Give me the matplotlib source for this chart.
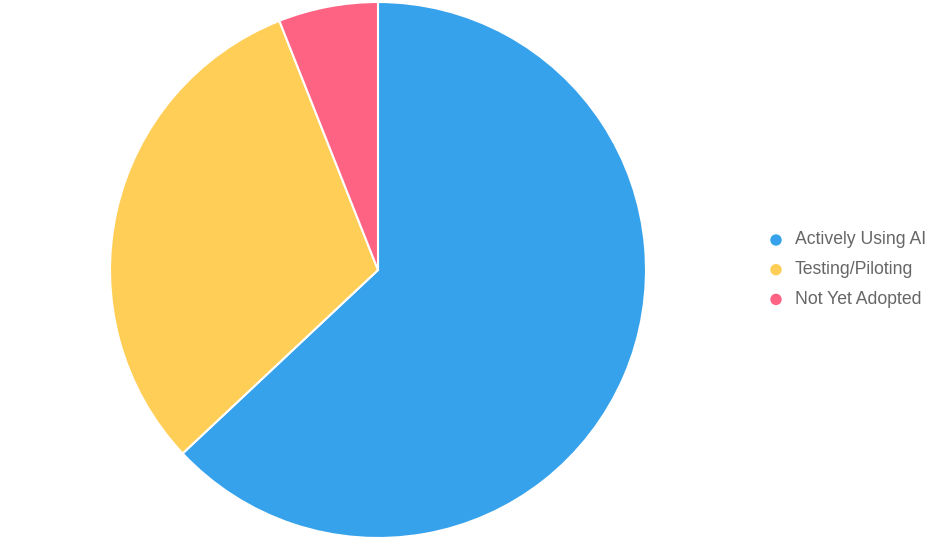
import matplotlib.pyplot as plt
from matplotlib.patches import Ellipse

labels = ['Actively Using AI', 'Testing/Piloting', 'Not Yet Adopted']
values = [63, 31, 6]
colors = ['#36A2EB', '#FFCE56', '#FF6384']

plt.rcParams['font.family'] = ['Liberation Sans', 'DejaVu Sans']

fig = plt.figure(figsize=(9.39, 5.42), dpi=100)
W, H = 939, 542
cx, cy, r = 378, 270, 268
ax = fig.add_axes([(cx - r) / W, (H - cy - r) / H, 2 * r / W, 2 * r / H])
ax.pie(values, colors=colors, startangle=90, counterclock=False,
       wedgeprops={'edgecolor': 'white', 'linewidth': 1.5})
ax.set_xlim(-1, 1)
ax.set_ylim(-1, 1)
ax.set_aspect('equal')
ax.axis('off')

# legend on the right
for i, (lab, col) in enumerate(zip(labels, colors)):
    y = 1 - (240 + i * 29.7) / H
    fig.patches.append(Ellipse((776 / W, y), 10 / W, 10 / H, transform=fig.transFigure,
                               color=col, figure=fig))
    fig.text(795 / W, y, lab, fontsize=12.7, color='#666666', va='center', ha='left')

fig.savefig('out.png', dpi=100)
